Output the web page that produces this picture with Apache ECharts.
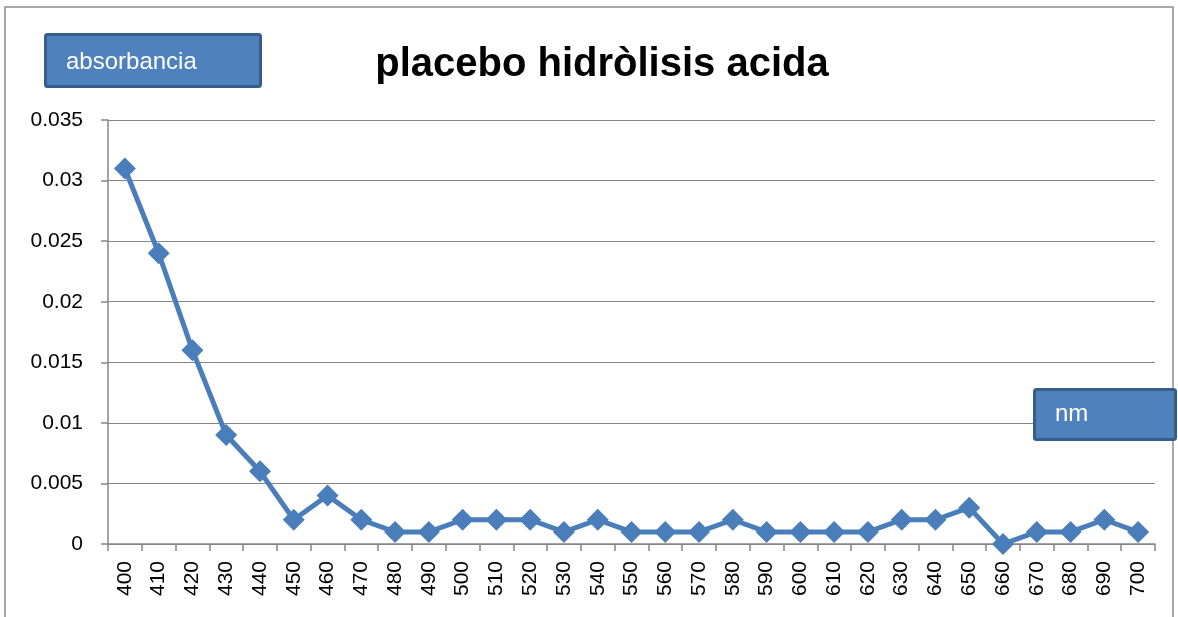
<!DOCTYPE html>
<html><head><meta charset="utf-8">
<script src="https://cdn.jsdelivr.net/npm/echarts@6/dist/echarts.min.js"></script>
<style>html,body{margin:0;padding:0;background:#fff}#c{width:1178px;height:617px}</style>
</head><body><div id="c"></div>
<script>
const categories = ['400','410','420','430','440','450','460','470','480','490','500','510','520','530','540','550','560','570','580','590','600','610','620','630','640','650','660','670','680','690','700'];
const absorbance = [0.031,0.024,0.016,0.009,0.006,0.002,0.004,0.002,0.001,0.001,0.002,0.002,0.002,0.001,0.002,0.001,0.001,0.001,0.002,0.001,0.001,0.001,0.001,0.002,0.002,0.003,0,0.001,0.001,0.002,0.001];
const yTicks = {min:0, max:0.035, interval:0.005};
const titleText = 'placebo hidròlisis acida';
const yName = 'absorbancia';
const xName = 'nm';

const font = 'Liberation Sans';
const chart = echarts.init(document.getElementById('c'), null, {renderer:'canvas'});
chart.setOption({
  animation:false,
  backgroundColor:'#fff',
  title:{text:titleText,left:597,textAlign:'center',top:40,textStyle:{fontFamily:font,fontWeight:'bold',fontSize:40,color:'#000'}},
  grid:{left:108,right:23,top:120,bottom:73,containLabel:false},
  xAxis:{type:'category',data:categories,boundaryGap:true,
    axisLine:{lineStyle:{color:'#868686',width:1.5}},
    axisTick:{show:true,alignWithLabel:false,length:7,lineStyle:{color:'#868686',width:1.5}},
    axisLabel:{rotate:90,fontFamily:font,fontSize:21,color:'#000',margin:17,interval:0},
    splitLine:{show:false}},
  yAxis:{type:'value',min:yTicks.min,max:yTicks.max,interval:yTicks.interval,
    axisLine:{show:true,lineStyle:{color:'#868686',width:1.5}},
    axisTick:{show:true,inside:false,length:7,lineStyle:{color:'#868686',width:1.5}},
    axisLabel:{fontFamily:font,fontSize:21,color:'#000',margin:25,formatter:v=>String(+v.toFixed(3))},
    splitLine:{show:true,lineStyle:{color:'#868686',width:1.2}}},
  series:[{type:'line',data:absorbance,color:'#4a7ebb',
    lineStyle:{width:5,color:'#4a7ebb'},
    symbol:'diamond',symbolSize:22,itemStyle:{color:'#4a7ebb'}}],
  graphic:[
    {type:'rect',shape:{x:5,y:7,width:1168,height:620},style:{fill:'none',stroke:'#8c8c8c',lineWidth:1.5},z:-1},
    {type:'rect',shape:{x:45.5,y:34.5,width:215,height:52,r:2},style:{fill:'#4f81bd',stroke:'#385d8a',lineWidth:3},z:10},
    {type:'text',left:66,top:50,style:{text:yName,fontFamily:font,fontSize:24,fill:'#fff'},z:11},
    {type:'rect',shape:{x:1034.5,y:389.5,width:141,height:50,r:2},style:{fill:'#4f81bd',stroke:'#385d8a',lineWidth:3},z:10},
    {type:'text',left:1055,top:402,style:{text:xName,fontFamily:font,fontSize:24,fill:'#fff'},z:11}
  ]
});
</script></body></html>
